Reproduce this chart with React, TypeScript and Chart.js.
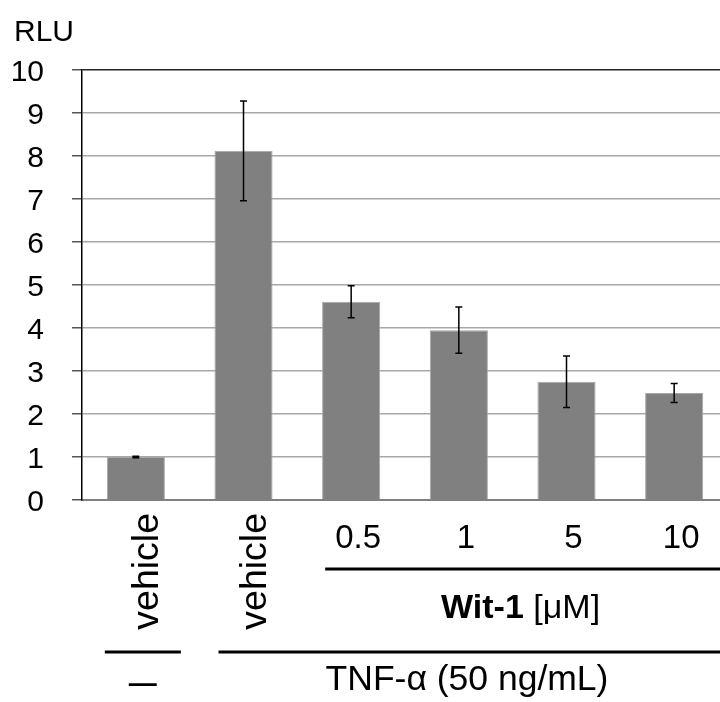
import React, { useEffect, useRef } from "react";
import { Chart, registerables } from "chart.js";

Chart.register(...registerables);

const categories = ["vehicle", "vehicle", "0.5", "1", "5", "10"];
const rotated = [true, true, false, false, false, false];
const values = [1.0, 8.12, 4.61, 3.95, 2.75, 2.49];
const errors = [0.02, 1.16, 0.37, 0.54, 0.6, 0.22];
const yMin = 0;
const yMax = 10;
const yStep = 1;
const axisTitle = "RLU";
const wit1Bold = "Wit-1";
const wit1Rest = " [\u03bcM]";
const tnfLabel = "TNF-\u03b1 (50 ng/mL)";
const noneLabel = "\u2014";

const FONT = "'Liberation Sans', Arial, Helvetica, sans-serif";
const SX = 1.0;

function stretchedText(ctx: CanvasRenderingContext2D, text: string, x: number, y: number, font: string, sx: number, align: CanvasTextAlign, baseline: CanvasTextBaseline = "alphabetic") {
  ctx.save();
  ctx.font = font;
  ctx.textAlign = align;
  ctx.textBaseline = baseline;
  ctx.translate(x, y);
  ctx.scale(sx, 1);
  ctx.fillText(text, 0, 0);
  ctx.restore();
}

const annotationsPlugin = {
  id: "annotations",
  afterDatasetsDraw(chart: any) {
    const ctx: CanvasRenderingContext2D = chart.ctx;
    const ys = chart.scales.y;
    const meta = chart.getDatasetMeta(0);
    ctx.save();
    ctx.strokeStyle = "#000";
    ctx.lineWidth = 1.5;
    meta.data.forEach((bar: any, i: number) => {
      const x = bar.x;
      const yt = ys.getPixelForValue(values[i] + errors[i]);
      const yb = ys.getPixelForValue(values[i] - errors[i]);
      ctx.beginPath();
      ctx.moveTo(x, yt);
      ctx.lineTo(x, yb);
      ctx.moveTo(x - 3.5, yt);
      ctx.lineTo(x + 3.5, yt);
      ctx.moveTo(x - 3.5, yb);
      ctx.lineTo(x + 3.5, yb);
      ctx.stroke();
    });
    ctx.restore();
  },
  afterDraw(chart: any) {
    const ctx: CanvasRenderingContext2D = chart.ctx;
    const xs = chart.scales.x;
    const ys = chart.scales.y;
    const area = chart.chartArea;
    const bottom = area.bottom;
    ctx.save();
    ctx.fillStyle = "#000";
    // axis title
    stretchedText(ctx, axisTitle, 14, 41, `30px ${FONT}`, SX, "left");

    // y tick labels
    ys.ticks.forEach((t: any) => {
      const y = ys.getPixelForValue(t.value);
      stretchedText(ctx, String(t.value), 44, y + 11, `30px ${FONT}`, SX, "right");
    });

    // category labels
    categories.forEach((lab, i) => {
      const cx = xs.getPixelForValue(i);
      if (rotated[i]) {
        ctx.save();
        ctx.font = `37.5px ${FONT}`;
        ctx.translate(cx + 22, bottom + 13);
        ctx.rotate(-Math.PI / 2);
        ctx.textAlign = "right";
        ctx.textBaseline = "alphabetic";
        ctx.fillText(lab, 0, 0);
        ctx.restore();
      } else {
        stretchedText(ctx, lab, cx + 7, bottom + 48, `33px ${FONT}`, SX, "center");
      }
    });

    // bracket lines
    ctx.strokeStyle = "#000";
    ctx.lineWidth = 3;
    const c0 = xs.getPixelForValue(0);
    const c1 = xs.getPixelForValue(1);
    const c2 = xs.getPixelForValue(2);
    const right = area.right;
    ctx.beginPath();
    ctx.moveTo(c2 - 26, bottom + 69);
    ctx.lineTo(right, bottom + 69);
    ctx.moveTo(c1 - 25, bottom + 152);
    ctx.lineTo(right, bottom + 152);
    ctx.moveTo(c0 - 31, bottom + 152);
    ctx.lineTo(c0 + 45, bottom + 152);
    ctx.stroke();

    // Wit-1 [μM]
    const boldFont = `bold 34px ${FONT}`;
    const regFont = `34px ${FONT}`;
    ctx.font = boldFont;
    const wb = ctx.measureText(wit1Bold).width * SX;
    ctx.font = regFont;
    const wr = ctx.measureText(wit1Rest).width * SX;
    const wc = (c2 - 26 + right) / 2 - 6;
    const left = wc - (wb + wr) / 2;
    stretchedText(ctx, wit1Bold, left, bottom + 118, boldFont, SX, "left");
    stretchedText(ctx, wit1Rest, left + wb, bottom + 118, regFont, SX, "left");

    // TNF label
    stretchedText(ctx, tnfLabel, 467, bottom + 190, `35.5px ${FONT}`, SX, "center");
    // none label
    stretchedText(ctx, noneLabel, c0 + 7, bottom + 192, `bold 28px ${FONT}`, 1.0, "center");
    ctx.restore();
  },
};

export default function App() {
  const ref = useRef<HTMLCanvasElement | null>(null);
  useEffect(() => {
    if (!ref.current) return;
    const chart = new Chart(ref.current, {
      type: "bar",
      data: {
        labels: categories,
        datasets: [
          {
            data: values,
            backgroundColor: "#808080",
            borderColor: "#a8a8a8",
            borderWidth: 1,
            barPercentage: 0.54,
            categoryPercentage: 1,
          },
        ],
      },
      options: {
        animation: false,
        responsive: false,
        maintainAspectRatio: false,
        layout: { padding: { top: 70, bottom: 202, left: 0, right: 0 } },
        plugins: {
          legend: { display: false },
          tooltip: { enabled: false },
          title: { display: false },
        },
        scales: {
          x: {
            type: "category",
            grid: { display: false },
            ticks: { display: false },
            border: { display: true, color: "#808080", width: 2 },
            afterFit: (s: any) => {
              s.height = 0;
            },
          },
          y: {
            min: yMin,
            max: yMax,
            ticks: {
              stepSize: yStep,
              display: false,
            },
            grid: {
              color: (c: any) => (c.tick && c.tick.value === yMax ? "#222" : "#a8a8a8"),
              lineWidth: 1.5,
              tickColor: "#555",
              tickLength: 10,
              drawTicks: true,
            },
            border: { display: true, color: "#000", width: 1.5 },
            afterFit: (s: any) => {
              s.width = 82;
            },
          },
        },
      },
      plugins: [annotationsPlugin],
    });
    return () => chart.destroy();
  }, []);
  return (
    <div style={{ position: "fixed", left: 0, top: 0, width: 720, height: 702, overflow: "hidden", background: "#fff" }}>
      <canvas ref={ref} width={728} height={702} style={{ width: 728, height: 702, display: "block" }} />
    </div>
  );
}
